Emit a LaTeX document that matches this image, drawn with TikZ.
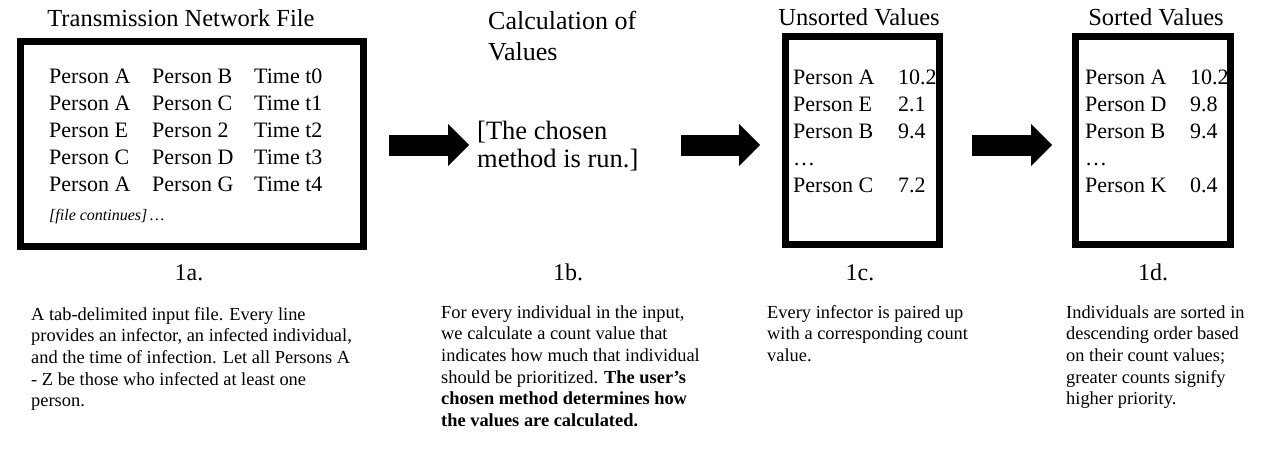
\documentclass[tikz,border=0pt]{standalone}
\usepackage{fontspec}
\setmainfont{Liberation Serif}
\usepackage{tikz}
\usetikzlibrary{arrows.meta, positioning}

\begin{document}
\begin{tikzpicture}[x=1pt, y=-1pt,
    panel/.style={draw, line width=7pt, inner sep=0pt},
    entry/.style={anchor=base west, inner sep=0pt, font=\fontsize{22}{26}\selectfont},
    heading/.style={anchor=base, inner sep=0pt, font=\fontsize{24.5}{30}\selectfont},
    steplabel/.style={anchor=base, inner sep=0pt, font=\fontsize{24}{28}\selectfont},
    caption/.style={anchor=base west, inner sep=0pt, align=left, font=\fontsize{18.4}{21.7}\selectfont},
    fat/.style={line width=21pt, ->}]
        \tikzset{>={Triangle[length=21pt, width=42pt, line width=0pt]}}

        % Fix the page size
        \useasboundingbox (0,0) rectangle (1263,455);

        % The three boxes
        \node[panel, minimum width=343pt, minimum height=205pt] (netfile) at (192,144) {};
        \node[panel, minimum width=154pt, minimum height=208pt] (unsorted) at (862.5,140.5) {};
        \node[panel, minimum width=155pt, minimum height=208pt] (sorted) at (1153,140.5) {};

        % Titles (multi-line nodes sit on their last line)
        \node[heading] (netfiletitle) at (181,27) {Transmission Network File};
        \node[heading] (unsortedtitle) at (859,25) {Unsorted Values};
        \node[heading] (sortedtitle) at (1156,25) {Sorted Values};
        \node[anchor=base west, inner sep=0pt, align=left, font=\fontsize{26}{31}\selectfont] (calctitle) at (488,60) {Calculation of\\Values};

        % Network file lines
        \foreach \a/\b/\t [count=\i] in {A/B/0, A/C/1, E/2/2, C/D/3, A/G/4} {
          \node[entry] (infector-\i) at (49,56+27*\i) {Person \a};
          \node[entry] (infected-\i) at (152,56+27*\i) {Person \b};
          \node[entry] (time-\i) at (254,56+27*\i) {Time t\t};
        }
        \node[anchor=base west, inner sep=0pt, font=\fontsize{16}{19}\selectfont\itshape] (more) at (49,220) {[file continues]\,…};

        % Middle step
        \node[anchor=base west, inner sep=0pt, align=left, font=\fontsize{26.5}{28.5}\selectfont] (calc) at (477,167.5) {[The chosen\\method is run.]};

        % Unsorted and sorted values
        \foreach \i/\p/\v in {1/A/10.2, 2/E/2.1, 3/B/9.4, 5/C/7.2} {
          \node[entry] (uname-\i) at (793,57+27*\i) {Person \p};
          \node[entry] (uval-\i) at (898,57+27*\i) {\v};
        }
        \node[entry] (udots) at (793,165) {…};
        \foreach \i/\p/\v in {1/A/10.2, 2/D/9.8, 3/B/9.4, 5/K/0.4} {
          \node[entry] (sname-\i) at (1085,57+27*\i) {Person \p};
          \node[entry] (sval-\i) at (1190,57+27*\i) {\v};
        }
        \node[entry] (sdots) at (1085,165) {…};

        % Arrows
        \coordinate (arrowrow) at (0,145);
        \draw[fat, shorten <=22pt, shorten >=8pt] (netfile.east |- arrowrow) -- (calc.west |- arrowrow);
        \draw[fat, shorten <=42pt, shorten >=22pt] (calc.east |- arrowrow) -- (unsorted.west |- arrowrow);
        \draw[fat, shorten <=29pt, shorten >=20pt] (unsorted.east |- arrowrow) -- (sorted.west |- arrowrow);

        % Step labels
        \foreach \s/\x in {a/189, b/568, c/860, d/1153} {
          \node[steplabel] (step-\s) at (\x,280) {1\s.};
        }

        % Captions
        \node[caption] (cap-a) at (31,406.8) {A tab-delimited input file. Every line\\provides an infector, an infected individual,\\and the time of infection. Let all Persons A\\- Z be those who infected at least one\\person.};
        \node[caption] (cap-b) at (441,426.5) {For every individual in the input,\\we calculate a count value that\\indicates how much that individual\\should be prioritized. \textbf{The user’s}\\\textbf{chosen method determines how}\\\textbf{the values are calculated.}};
        \node[caption] (cap-c) at (767,361.4) {Every infector is paired up\\with a corresponding count\\value.};
        \node[caption] (cap-d) at (1066,404.8) {Individuals are sorted in\\descending order based\\on their count values;\\greater counts signify\\higher priority.};
    \end{tikzpicture}
\end{document}
